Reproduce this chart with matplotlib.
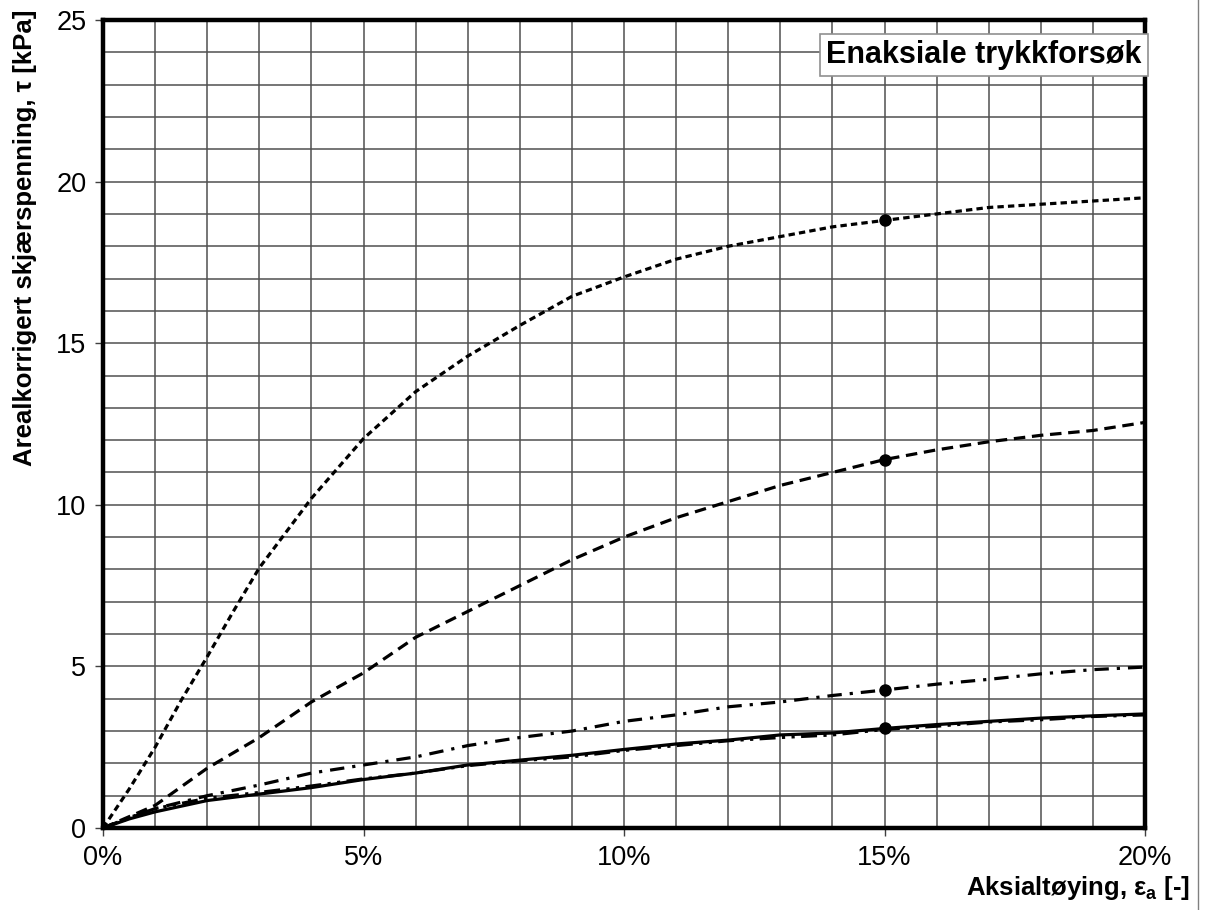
# Enaksiale trykkforsøk - shear stress vs axial strain

import numpy as np
import matplotlib.pyplot as plt
from matplotlib.lines import Line2D
from matplotlib.ticker import MultipleLocator, PercentFormatter

plt.rcParams['font.family'] = ['Liberation Sans', 'DejaVu Sans']
plt.rcParams['mathtext.fontset'] = 'custom'
plt.rcParams['mathtext.rm'] = 'Liberation Sans'
plt.rcParams['mathtext.bf'] = 'Liberation Sans:bold'

# Data (strain as fraction, tau in kPa)
eps_1 = [0, 0.005, 0.01, 0.015, 0.02, 0.025, 0.03, 0.04, 0.05, 0.06, 0.07, 0.08, 0.09,
         0.10, 0.11, 0.12, 0.13, 0.14, 0.15, 0.16, 0.17, 0.18, 0.19, 0.20]
tau_1 = [0, 1.2, 2.5, 3.95, 5.3, 6.7, 8.05, 10.2, 12.05, 13.5, 14.6, 15.55, 16.45,
         17.05, 17.6, 18.0, 18.3, 18.6, 18.8, 19.0, 19.2, 19.3, 19.4, 19.5]

eps_2 = [0, 0.005, 0.01, 0.02, 0.03, 0.04, 0.05, 0.06, 0.07, 0.08, 0.09, 0.10, 0.11,
         0.12, 0.13, 0.14, 0.15, 0.16, 0.17, 0.18, 0.19, 0.20]
tau_2 = [0, 0.35, 0.7, 1.85, 2.8, 3.9, 4.8, 5.9, 6.7, 7.5, 8.3, 9.0, 9.6,
         10.1, 10.6, 11.0, 11.4, 11.7, 11.95, 12.15, 12.3, 12.55]

eps_3 = [0, 0.005, 0.01, 0.02, 0.03, 0.04, 0.05, 0.06, 0.07, 0.08, 0.09, 0.10, 0.11,
         0.12, 0.13, 0.14, 0.15, 0.16, 0.17, 0.18, 0.19, 0.20]
tau_3 = [0, 0.3, 0.6, 1.0, 1.33, 1.7, 1.95, 2.2, 2.55, 2.8, 3.0, 3.3, 3.5,
         3.75, 3.9, 4.1, 4.27, 4.45, 4.6, 4.77, 4.9, 4.98]

eps_4 = [0, 0.005, 0.01, 0.02, 0.03, 0.04, 0.05, 0.06, 0.07, 0.08, 0.09, 0.10, 0.11,
         0.12, 0.13, 0.14, 0.15, 0.16, 0.17, 0.18, 0.19, 0.20]
tau_4 = [0, 0.28, 0.5, 0.85, 1.05, 1.25, 1.5, 1.7, 1.95, 2.1, 2.25, 2.43, 2.6,
         2.72, 2.88, 2.94, 3.08, 3.2, 3.3, 3.4, 3.47, 3.53]

eps_5 = [0, 0.005, 0.01, 0.02, 0.03, 0.04, 0.05, 0.06, 0.07, 0.08, 0.09, 0.10, 0.11,
         0.12, 0.13, 0.14, 0.15, 0.16, 0.17, 0.18, 0.19, 0.20]
tau_5 = [0, 0.32, 0.6, 0.92, 1.1, 1.3, 1.52, 1.7, 1.93, 2.08, 2.2, 2.4, 2.55,
         2.7, 2.8, 2.88, 3.05, 3.15, 3.28, 3.35, 3.45, 3.5]

# Marked points at 15 % strain
mark_eps = [0.15, 0.15, 0.15, 0.15]
mark_tau = [18.8, 11.4, 4.27, 3.08]

fig = plt.figure(figsize=(12.05, 9.1), dpi=100)
ax = fig.add_axes([0.0855, 0.0901, 0.8647, 0.8879])

ax.plot(eps_1, tau_1, color='black', lw=2.3, linestyle=(0, (2.0, 1.3)))
ax.plot(eps_2, tau_2, color='black', lw=2.3, linestyle=(0, (3.6, 2.1)))
ax.plot(eps_3, tau_3, color='black', lw=2.3, linestyle=(0, (4.5, 2.5, 1, 2.5)))
ax.plot(eps_5, tau_5, color='black', lw=2.3, linestyle=(0, (5, 2, 1, 2, 1, 2)))
ax.plot(eps_4, tau_4, color='black', lw=2.3, linestyle='-')
ax.plot(mark_eps, mark_tau, 'o', color='black', markersize=8, zorder=5)

ax.set_xlim(0, 0.2)
ax.set_ylim(0, 25)
ax.xaxis.set_major_locator(MultipleLocator(0.05))
ax.xaxis.set_minor_locator(MultipleLocator(0.01))
ax.yaxis.set_major_locator(MultipleLocator(5))
ax.yaxis.set_minor_locator(MultipleLocator(1))
ax.xaxis.set_major_formatter(PercentFormatter(1.0, decimals=0))

ax.grid(True, which='both', color='#505050', lw=1.1)
ax.set_axisbelow(True)
ax.tick_params(which='major', length=6, width=1, color='#404040',
               labelsize=19.5, pad=6)
ax.tick_params(which='minor', length=0)

for s in ax.spines.values():
    s.set_linewidth(3.2)
    s.set_color('black')

ax.text(0.997, 0.975, 'Enaksiale trykkforsøk', transform=ax.transAxes,
        ha='right', va='top', fontsize=22, fontweight='bold',
        bbox=dict(boxstyle='square,pad=0.2', facecolor='white',
                  edgecolor='#909090', lw=1.2))

fig.text(0.988, 0.024, r'Aksialtøying, ε$_\mathbf{a}$ [-]', ha='right', va='center',
         fontsize=18.5, fontweight='bold')
fig.text(0.021, 0.990, 'Arealkorrigert skjærspenning, τ [kPa]', rotation=90,
         ha='center', va='top', fontsize=18.5, fontweight='bold')

# Thin border line at right edge
fig.add_artist(Line2D([0.9945, 0.9945], [0, 1], transform=fig.transFigure,
                      color='#808080', lw=1))

fig.savefig('out.png', dpi=100)
